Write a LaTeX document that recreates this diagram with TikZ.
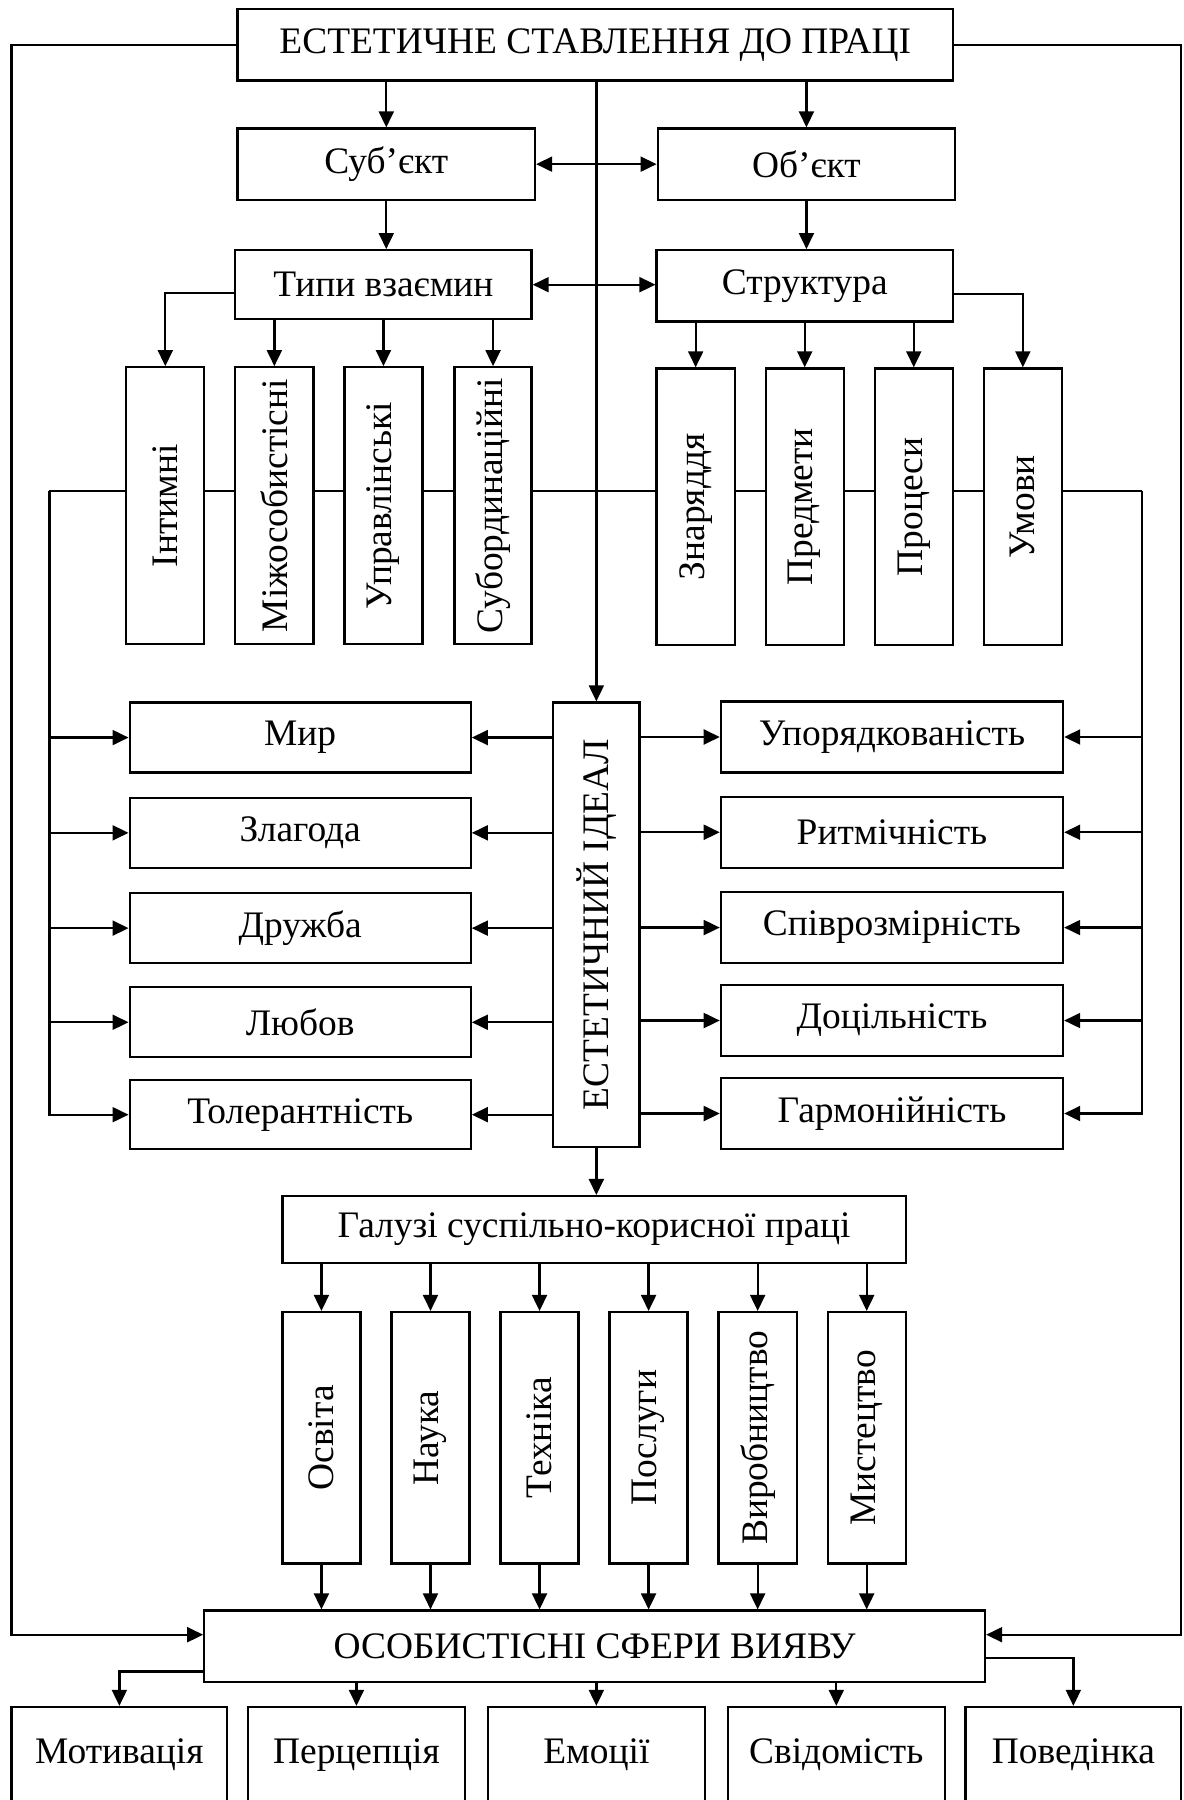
\documentclass[tikz,border=0pt]{standalone}
\usepackage{fontspec}
\setmainfont{Liberation Serif}
\usepackage{graphicx}
\usetikzlibrary{arrows.meta}
\pgfdeclarelayer{bg}
\pgfsetlayers{bg,main}
\newcommand\bx[6]{\node[boxst, minimum width={(#4-#2)*0.5pt}, minimum height={(#5-#3)*0.5pt}] (#1) at ({(#2+#4)/2},{(#3+#5)/2}) {#6};}
\newcommand\vt[1]{\rotatebox{90}{#1}}
\begin{document}
\begin{tikzpicture}[x=0.5pt,y=-0.5pt,
  boxst/.style={draw, fill=white, line width=1pt, inner sep=0pt, font=\fontsize{16.3}{19}\selectfont},
  arr/.style={-{Triangle[length=7pt,width=6.5pt]}, line width=1pt},
  arrb/.style={{Triangle[length=7pt,width=6.5pt]}-{Triangle[length=7pt,width=6.5pt]}, line width=1pt},
  ln/.style={line width=1pt}]
\useasboundingbox (0,0) rectangle (1031,1568);
\bx{top}{207}{8}{830}{70}{ЕСТЕТИЧНЕ СТАВЛЕННЯ ДО ПРАЦІ}
\bx{sub}{207}{112}{466}{174}{Суб’єкт}
\bx{obj}{573}{112}{832}{174}{Об’єкт}
\bx{typ}{205}{218}{463}{278}{Типи взаємин}
\bx{str}{572}{218}{830}{280}{Структура}
\bx{int}{110}{320}{178}{561}{\vt{Інтимні}}
\bx{mij}{205}{320}{273}{561}{\vt{Міжособистісні}}
\bx{upr}{300}{320}{368}{561}{\vt{Управлінські}}
\bx{sbo}{396}{320}{463}{561}{\vt{Субординаційні}}
\bx{zna}{572}{321}{640}{562}{\vt{Знаряддя}}
\bx{pre}{667}{321}{735}{562}{\vt{Предмети}}
\bx{pro}{762}{321}{830}{562}{\vt{Процеси}}
\bx{umo}{857}{321}{925}{562}{\vt{Умови}}
\bx{mir}{113}{612}{410}{673}{Мир}
\bx{zla}{113}{695}{410}{756}{Злагода}
\bx{dru}{113}{778}{410}{839}{Дружба}
\bx{lub}{113}{860}{410}{921}{Любов}
\bx{tol}{113}{941}{410}{1001}{Толерантність}
\bx{ide}{482}{612}{557}{999}{\vt{ЕСТЕТИЧНИЙ ІДЕАЛ}}
\bx{upo}{628}{611}{926}{673}{Упорядкованість}
\bx{rit}{628}{694}{926}{756}{Ритмічність}
\bx{spi}{628}{777}{926}{839}{Співрозмірність}
\bx{doc}{628}{858}{926}{920}{Доцільність}
\bx{gar}{628}{939}{926}{1001}{Гармонійність}
\bx{gal}{246}{1042}{789}{1100}{Галузі суспільно-корисної праці}
\bx{osv}{246}{1143}{314}{1362}{\vt{Освіта}}
\bx{nau}{341}{1143}{409}{1362}{\vt{Наука}}
\bx{tex}{436}{1143}{504}{1362}{\vt{Техніка}}
\bx{pos}{531}{1143}{599}{1362}{\vt{Послуги}}
\bx{vyr}{626}{1143}{694}{1362}{\vt{Виробництво}}
\bx{mys}{721}{1143}{789}{1362}{\vt{Мистецтво}}
\bx{osob}{178}{1403}{858}{1465}{ОСОБИСТІСНІ СФЕРИ ВИЯВУ}
\bx{mot}{10}{1487}{198}{1570}{Мотивація}
\bx{per}{216}{1487}{405}{1570}{Перцепція}
\bx{emo}{425}{1487}{614}{1570}{Емоції}
\bx{svi}{634}{1487}{823}{1570}{Свідомість}
\bx{pov}{841}{1487}{1029}{1570}{Поведінка}
\coordinate (lt) at (43,428);
\coordinate (rt) at (995,428);
\coordinate (ol) at (10,0);
\coordinate (orr) at (1029,0);
% top level
\draw[arr] (top.south -| sub) -- (sub.north);
\draw[arr] (top.south -| obj) -- (obj.north);
\draw[arr] (top.south -| ide) -- (ide.north);
\draw[arrb] (sub.east) -- (obj.west);
\draw[arr] (sub.south) -- (sub.south |- typ.north);
\draw[arr] (obj.south) -- (obj.south |- str.north);
\draw[arrb] (typ.east) -- (str.west |- typ.east);
\draw[arr] ([yshift=-3.5pt]typ.west) -| (int.north);
\foreach \n in {mij,upr,sbo} \draw[arr] (typ.south -| \n) -- (\n.north);
\draw[arr] ([yshift=-3.5pt]str.east) -| (umo.north);
\foreach \n in {zna,pre,pro} \draw[arr] (str.south -| \n) -- (\n.north);
% cross line behind boxes
\begin{pgfonlayer}{bg}
\draw[ln] (lt) -- (rt);
\end{pgfonlayer}
\draw[arr] (lt) |- (tol.west);
\foreach \n in {mir,zla,dru,lub} \draw[arr] (lt |- \n) -- (\n.west);
\draw[arr] (rt) |- (gar.east);
\foreach \n in {upo,rit,spi,doc} \draw[arr] (rt |- \n) -- (\n.east);
\foreach \n in {mir,zla,dru,lub,tol} \draw[arr] (ide.west |- \n) -- (\n.east);
\foreach \n in {upo,rit,spi,doc,gar} \draw[arr] (ide.east |- \n) -- (\n.west);
\draw[arr] (ide.south) -- (ide.south |- gal.north);
\foreach \n in {osv,nau,tex,pos,vyr,mys} {
  \draw[arr] (gal.south -| \n) -- (\n.north);
  \draw[arr] (\n.south) -- (\n.south |- osob.north);
}
\draw[arr] (top.west) -- (top.west -| ol) |- ([yshift=5pt]osob.west);
\draw[arr] (top.east) -- (top.east -| orr) |- ([yshift=5pt]osob.east);
\draw[arr] ([yshift=-11pt]osob.west) -| (mot.north);
\foreach \n in {per,emo,svi} \draw[arr] (osob.south -| \n) -- (\n.north);
\draw[arr] ([yshift=-5pt]osob.east) -| (pov.north);
\end{tikzpicture}
\end{document}
